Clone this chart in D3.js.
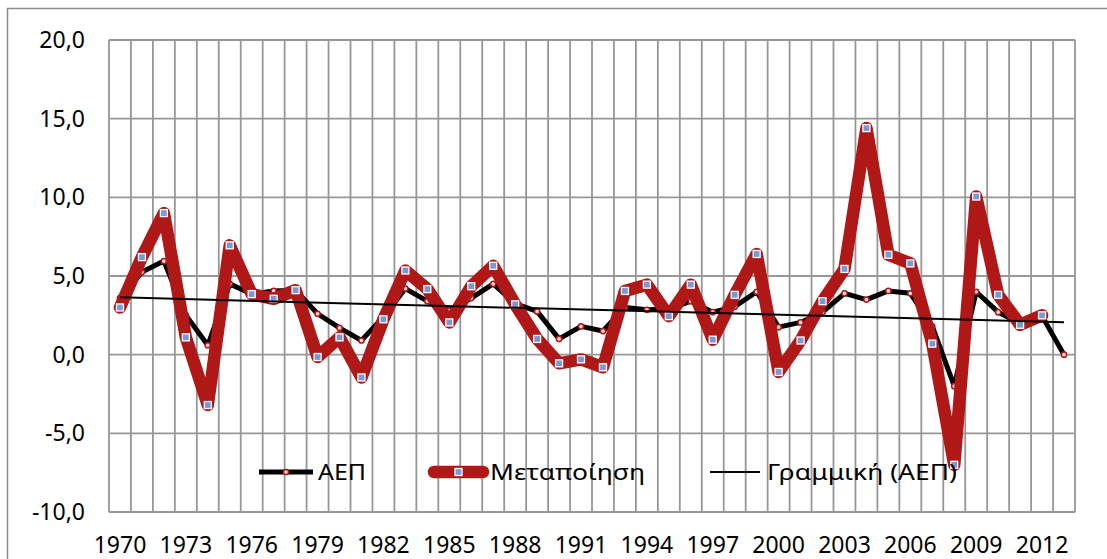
<!DOCTYPE html>
<html>
<head>
<meta charset="utf-8">
<script src="https://cdn.jsdelivr.net/npm/d3@7"></script>
<style>
  body { margin: 0; background: #fff; }
  svg { display: block; }
  text { font-family: "Noto Sans", "DejaVu Sans", sans-serif; fill: #000; }
</style>
</head>
<body>
<svg id="chart" width="1107" height="559"></svg>
<script>
// --- data ---
const years = [1970, 1971, 1972, 1973, 1974, 1975, 1976, 1977, 1978, 1979,
               1980, 1981, 1982, 1983, 1984, 1985, 1986, 1987, 1988, 1989,
               1990, 1991, 1992, 1993, 1994, 1995, 1996, 1997, 1998, 1999,
               2000, 2001, 2002, 2003, 2004, 2005, 2006, 2007, 2008, 2009,
               2010, 2011, 2012, 2013];
const gdp = [3.6, 5.25, 5.95, 2.5, 0.6, 4.5, 3.85, 4.05, 4.1, 2.6,
             1.7, 0.9, 2.4, 4.2, 3.4, 2.8, 3.6, 4.5, 3.25, 2.75,
             1.0, 1.8, 1.5, 3.0, 2.85, 2.9, 3.4, 2.7, 3.05, 4.0,
             1.75, 2.05, 2.7, 3.9, 3.5, 4.05, 3.9, 1.8, -2.0, 4.0,
             2.7, 2.0, 2.45, 0.0];
const manufacturing = [3.0, 6.2, 9.0, 1.1, -3.2, 6.95, 3.85, 3.55, 4.1, -0.15,
                       1.1, -1.45, 2.25, 5.35, 4.17, 2.05, 4.35, 5.65, 3.2, 1.0,
                       -0.55, -0.3, -0.8, 4.05, 4.45, 2.45, 4.45, 0.95, 3.8, 6.4,
                       -1.1, 0.9, 3.4, 5.45, 14.4, 6.35, 5.8, 0.7, -7.0, 10.05,
                       3.8, 1.9, 2.5, null];
const xTicks = [1970, 1973, 1976, 1979, 1982, 1985, 1988, 1991, 1994, 1997, 2000, 2003, 2006, 2009, 2012];
const yTicks = [-10, -5, 0, 5, 10, 15, 20];
const seriesNames = ["ΑΕΠ", "Μεταποίηση", "Γραμμική (ΑΕΠ)"];

const svg = d3.select("#chart");
const pLeft = 109, pRight = 1075, pTop = 40, pBottom = 512;
const red = "#b01717", grid = "#979797";

// chart border
svg.append("rect")
  .attr("x", 7.5).attr("y", 8.5)
  .attr("width", 1120).attr("height", 580)
  .attr("fill", "none").attr("stroke", "#8c8c8c").attr("stroke-width", 1.5);

const x = d3.scaleBand().domain(years).range([pLeft, pRight]).padding(0);
const xc = d => x(d) + x.bandwidth() / 2;
const y = d3.scaleLinear().domain([-10, 20]).range([pBottom, pTop]);

const loc = d3.formatLocale({decimal: ",", thousands: ".", grouping: [3], currency: ["", "€"], minus: "-"});
const fmt = loc.format(".1f");

// grid
const g = svg.append("g");
g.selectAll(".hg").data(yTicks).join("line")
  .attr("x1", pLeft).attr("x2", pRight)
  .attr("y1", d => y(d)).attr("y2", d => y(d))
  .attr("stroke", grid).attr("stroke-width", 1.8);
const edges = years.map(d => x(d)).concat([pRight]);
g.selectAll(".vg").data(edges).join("line")
  .attr("x1", d => d).attr("x2", d => d)
  .attr("y1", pTop).attr("y2", pBottom)
  .attr("stroke", grid).attr("stroke-width", 1.8);

// axes
const yAxis = svg.append("g")
  .attr("transform", `translate(${pLeft},0)`)
  .call(d3.axisLeft(y).tickValues(yTicks).tickFormat(fmt).tickSize(0).tickPadding(24));
yAxis.select(".domain").remove();
yAxis.selectAll("text").attr("font-size", 23);
yAxis.attr("font-family", null);

const xAxis = svg.append("g")
  .attr("transform", `translate(0,${pBottom})`)
  .call(d3.axisBottom(x).tickValues(xTicks).tickSize(0).tickPadding(25));
xAxis.select(".domain").remove();
xAxis.selectAll("text").attr("font-size", 23);
xAxis.attr("font-family", null);

// GDP line
const line = d3.line()
  .defined(d => d[1] != null)
  .x(d => xc(d[0])).y(d => y(d[1]));
const gdpPts = years.map((yr, i) => [yr, gdp[i]]);
const mfgPts = years.map((yr, i) => [yr, manufacturing[i]]);

svg.append("path").datum(gdpPts)
  .attr("d", line).attr("fill", "none")
  .attr("stroke", "#000").attr("stroke-width", 5).attr("stroke-linejoin", "round");
svg.selectAll(".gm").data(gdpPts).join("circle")
  .attr("cx", d => xc(d[0])).attr("cy", d => y(d[1])).attr("r", 2.6)
  .attr("fill", "#f2d4d4").attr("stroke", red).attr("stroke-width", 1.5);

// manufacturing line
svg.append("path").datum(mfgPts)
  .attr("d", line).attr("fill", "none")
  .attr("stroke", red).attr("stroke-width", 12.5)
  .attr("stroke-linejoin", "round").attr("stroke-linecap", "round");
svg.selectAll(".mm").data(mfgPts.filter(d => d[1] != null)).join("rect")
  .attr("x", d => xc(d[0]) - 3.5).attr("y", d => y(d[1]) - 3.5)
  .attr("width", 7).attr("height", 7)
  .attr("fill", "#7a97d6").attr("stroke", "#fff").attr("stroke-width", 1.3);

// linear trend of GDP (least squares)
const n = gdp.length;
const idx = gdp.map((v, i) => i + 1);
const mx = d3.mean(idx), my = d3.mean(gdp);
const slope = d3.sum(idx, (t, i) => (t - mx) * (gdp[i] - my)) / d3.sum(idx, t => (t - mx) ** 2);
const icpt = my - slope * mx;
const trendPts = [[years[0], icpt + slope * 1], [years[n - 1], icpt + slope * n]];
svg.append("path").datum(trendPts)
  .attr("d", line).attr("fill", "none")
  .attr("stroke", "#000").attr("stroke-width", 2);

// legend
const ly = 472;
const lg = svg.append("g").attr("font-size", 22);
lg.append("line").attr("x1", 259).attr("x2", 313).attr("y1", ly).attr("y2", ly)
  .attr("stroke", "#000").attr("stroke-width", 5);
lg.append("circle").attr("cx", 286).attr("cy", ly).attr("r", 2.6)
  .attr("fill", "#f2d4d4").attr("stroke", red).attr("stroke-width", 1.5);
lg.append("text").attr("x", 318).attr("y", ly).attr("dy", "0.35em")
  .attr("textLength", 48).attr("lengthAdjust", "spacingAndGlyphs").text(seriesNames[0]);

lg.append("line").attr("x1", 434).attr("x2", 483).attr("y1", ly).attr("y2", ly)
  .attr("stroke", red).attr("stroke-width", 12.5).attr("stroke-linecap", "round");
lg.append("rect").attr("x", 455).attr("y", ly - 3.5).attr("width", 7).attr("height", 7)
  .attr("fill", "#7a97d6").attr("stroke", "#fff").attr("stroke-width", 1.3);
lg.append("text").attr("x", 490).attr("y", ly).attr("dy", "0.35em")
  .attr("textLength", 155).attr("lengthAdjust", "spacingAndGlyphs").text(seriesNames[1]);

lg.append("line").attr("x1", 710).attr("x2", 760).attr("y1", ly).attr("y2", ly)
  .attr("stroke", "#000").attr("stroke-width", 2);
lg.append("text").attr("x", 767).attr("y", ly).attr("dy", "0.35em")
  .attr("textLength", 190).attr("lengthAdjust", "spacingAndGlyphs").text(seriesNames[2]);
</script>
</body>
</html>
